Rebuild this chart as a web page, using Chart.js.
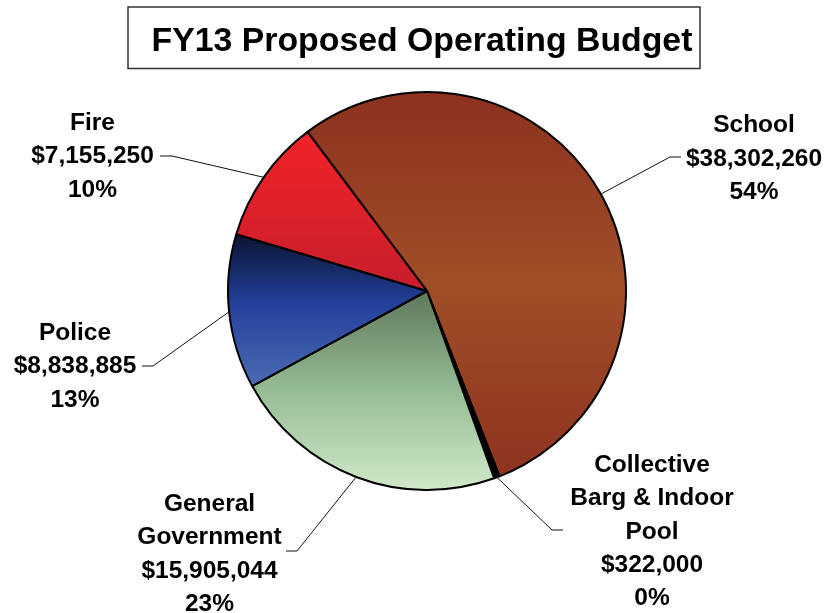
<!DOCTYPE html>
<html>
<head>
<meta charset="utf-8">
<script src="https://cdn.jsdelivr.net/npm/chart.js@4.4.1/dist/chart.umd.min.js"></script>
<style>
  html, body { margin: 0; padding: 0; background: #fff; }
  #wrap { width: 840px; height: 613px; position: relative; }
</style>
</head>
<body>
<div id="wrap"><canvas id="budgetPie" width="840" height="613"></canvas></div>
<script>
// FY13 operating budget by department
const chartTitle = 'FY13 Proposed Operating Budget';
const categories = [
  ['School'],
  ['Collective', 'Barg & Indoor', 'Pool'],
  ['General', 'Government'],
  ['Police'],
  ['Fire']
];
const budgetValues = [38302260, 322000, 15905044, 8838885, 7155250];

// vertical gradient stops per slice
const sliceStops = [
  [[0, '#8C311F'], [0.5, '#A04E28'], [1, '#8E3320']],
  [[0, '#000000'], [1, '#000000']],
  [[0, '#5E775B'], [0.5, '#96BC95'], [1, '#D0E9C9']],
  [[0, '#0A1331'], [0.45, '#22409A'], [1, '#4B6BB3']],
  [[0, '#F12328'], [1, '#C71E2C']]
];

// label placement: text centre x, first line y, elbow and end of leader line
const labelSpots = [
  { x: 754, y: 125.5, elbow: [670, 157], end: [681, 157] },
  { x: 652, y: 465, elbow: [552, 530], end: [563, 530] },
  { x: 209.5, y: 504, elbow: [297, 551], end: [286, 551] },
  { x: 75, y: 333, elbow: [153, 366], end: [142, 366] },
  { x: 92.5, y: 123, elbow: [172, 156], end: [160, 156] }
];
const lineGap = 33.4;
const rotationDeg = -36.9;

const total = budgetValues.reduce((a, b) => a + b, 0);

function sliceFill(context) {
  const chart = context.chart;
  const area = chart.chartArea;
  if (!area) return '#888';
  const i = context.dataIndex;
  const r = chart.getDatasetMeta(0).controller.outerRadius || Math.min(area.width, area.height) / 2;
  const cx = (area.left + area.right) / 2;
  const cy = (area.top + area.bottom) / 2;
  let before = 0;
  for (let k = 0; k < i; k++) before += budgetValues[k];
  const base = rotationDeg * Math.PI / 180 - Math.PI / 2;
  const a0 = base + before / total * Math.PI * 2;
  const a1 = a0 + budgetValues[i] / total * Math.PI * 2;
  let ys = [cy, cy + r * Math.sin(a0), cy + r * Math.sin(a1)];
  // include top / bottom of circle when the arc passes them
  for (const t of [-Math.PI / 2, Math.PI / 2, 3 * Math.PI / 2, -3 * Math.PI / 2]) {
    if (t > a0 && t < a1) ys.push(cy + r * Math.sin(t));
  }
  const top = Math.min(...ys), bottom = Math.max(...ys);
  const g = chart.ctx.createLinearGradient(0, top, 0, bottom === top ? top + 1 : bottom);
  sliceStops[i].forEach(s => g.addColorStop(s[0], s[1]));
  return g;
}

const titleBox = {
  id: 'titleBox',
  afterDraw(chart) {
    const ctx = chart.ctx;
    ctx.save();
    ctx.strokeStyle = '#333';
    ctx.lineWidth = 1.5;
    ctx.strokeRect(128, 7, 572, 61.5);
    ctx.fillStyle = '#000';
    ctx.font = "bold 33.8px 'Liberation Sans', Arial, sans-serif";
    ctx.textAlign = 'center';
    ctx.textBaseline = 'alphabetic';
    ctx.fillText(chartTitle, 422, 50.5);
    ctx.restore();
  }
};

const sliceLabels = {
  id: 'sliceLabels',
  afterDraw(chart) {
    const ctx = chart.ctx;
    const meta = chart.getDatasetMeta(0);
    ctx.save();
    meta.data.forEach((arc, i) => {
      const p = arc.getProps(['x', 'y', 'startAngle', 'endAngle', 'outerRadius'], true);
      const mid = (p.startAngle + p.endAngle) / 2;
      const sx = p.x + Math.cos(mid) * p.outerRadius;
      const sy = p.y + Math.sin(mid) * p.outerRadius;
      const spot = labelSpots[i];
      ctx.strokeStyle = '#111';
      ctx.lineWidth = 1;
      ctx.beginPath();
      ctx.moveTo(sx, sy);
      ctx.lineTo(spot.elbow[0], spot.elbow[1]);
      ctx.lineTo(spot.end[0], spot.end[1]);
      ctx.stroke();

      const pct = Math.round(budgetValues[i] / total * 100);
      const lines = categories[i].concat(['$' + budgetValues[i].toLocaleString('en-US'), pct + '%']);
      ctx.fillStyle = '#000';
      ctx.font = "bold 24.5px 'Liberation Sans', Arial, sans-serif";
      ctx.textAlign = 'center';
      ctx.textBaseline = 'middle';
      lines.forEach((t, j) => ctx.fillText(t, spot.x, spot.y + j * lineGap));
    });
    ctx.restore();
  }
};

new Chart(document.getElementById('budgetPie').getContext('2d'), {
  type: 'pie',
  data: {
    labels: categories,
    datasets: [{
      data: budgetValues,
      backgroundColor: sliceFill,
      borderColor: '#000',
      borderWidth: 2
    }]
  },
  options: {
    responsive: false,
    animation: false,
    rotation: rotationDeg,
    layout: { padding: { top: 91, bottom: 122, left: 227, right: 213 } },
    plugins: {
      legend: { display: false },
      tooltip: { enabled: false },
      title: { display: false }
    }
  },
  plugins: [titleBox, sliceLabels]
});
</script>
</body>
</html>
